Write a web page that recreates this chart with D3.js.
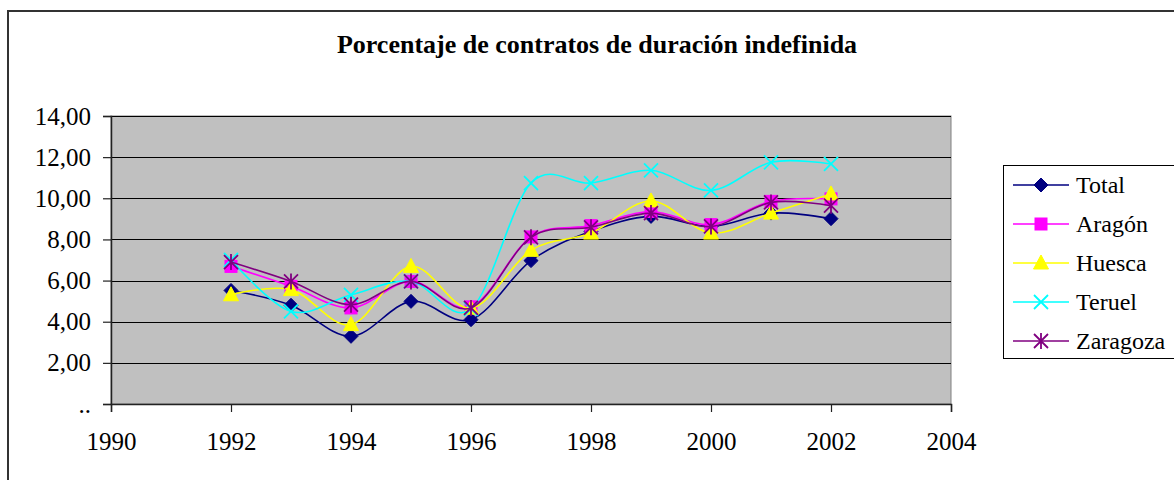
<!DOCTYPE html>
<html>
<head>
<meta charset="utf-8">
<script src="https://cdn.jsdelivr.net/npm/d3@7"></script>
<style>
  body { margin: 0; background: #fff; }
  svg { display: block; font-family: "Liberation Serif", serif; }
</style>
</head>
<body>
<div id="chart"></div>
<script>
const title = "Porcentaje de contratos de duración indefinida";
const years = [1992, 1993, 1994, 1995, 1996, 1997, 1998, 1999, 2000, 2001, 2002];
const xTicks = [1990, 1992, 1994, 1996, 1998, 2000, 2002, 2004];
const yTicks = [0, 2, 4, 6, 8, 10, 12, 14];

const total    = [5.52, 4.80, 3.29, 4.99, 4.10, 6.97, 8.39, 9.12, 8.63, 9.28, 9.01];
const aragon   = [6.69, 5.72, 4.67, 5.96, 4.72, 8.12, 8.67, 9.36, 8.72, 9.85, 9.97];
const huesca   = [5.31, 5.56, 3.86, 6.69, 4.66, 7.47, 8.31, 9.87, 8.31, 9.28, 10.21];
const teruel   = [7.00, 4.50, 5.31, 5.96, 4.62, 10.74, 10.74, 11.36, 10.38, 11.75, 11.67];
const zaragoza = [6.90, 5.96, 4.83, 5.96, 4.67, 8.10, 8.59, 9.28, 8.63, 9.80, 9.64];

const series = [
  {name: "Total",    values: total,    color: "#000080", marker: "diamond"},
  {name: "Aragón",   values: aragon,   color: "#FF00FF", marker: "square"},
  {name: "Huesca",   values: huesca,   color: "#FFFF00", marker: "triangle"},
  {name: "Teruel",   values: teruel,   color: "#00FFFF", marker: "cross"},
  {name: "Zaragoza", values: zaragoza, color: "#800080", marker: "star"}
];

const W = 1174, H = 480;
const plot = {left: 111, right: 951, top: 116, bottom: 404};
const serif = "'Liberation Serif', 'Times New Roman', serif";

const svg = d3.select("#chart").append("svg")
  .attr("width", W).attr("height", H);

// outer chart frame (runs off right and bottom edge)
svg.append("rect")
  .attr("x", 8).attr("y", 11)
  .attr("width", W + 10).attr("height", H + 10)
  .attr("fill", "#fff").attr("stroke", "#333").attr("stroke-width", 2);

svg.append("text")
  .attr("x", 597).attr("y", 53)
  .attr("text-anchor", "middle")
  .style("font-family", serif)
  .style("font-weight", "bold").style("font-size", "26px")
  .text(title);

const x = d3.scaleLinear().domain([1990, 2004]).range([plot.left, plot.right]);
const y = d3.scaleLinear().domain([0, 14]).range([plot.bottom, plot.top]);

svg.append("rect")
  .attr("x", plot.left).attr("y", plot.top)
  .attr("width", plot.right - plot.left).attr("height", plot.bottom - plot.top)
  .attr("fill", "#C0C0C0").attr("stroke", "#808080").attr("stroke-width", 1);

svg.append("g").selectAll("line")
  .data(yTicks.filter(d => d > 0))
  .join("line")
  .attr("x1", plot.left).attr("x2", plot.right)
  .attr("y1", d => Math.round(y(d)) + 0.5).attr("y2", d => Math.round(y(d)) + 0.5)
  .attr("stroke", "#000").attr("stroke-width", 1.2);

const es = d3.formatLocale({decimal: ",", thousands: ".", grouping: [3], currency: ["", "€"]});
const fmt = es.format(".2f");

const yAxis = svg.append("g")
  .attr("transform", `translate(${plot.left},0)`)
  .call(d3.axisLeft(y).tickValues(yTicks).tickSize(8).tickPadding(12)
    .tickFormat(d => d === 0 ? ".." : fmt(d)));

const xAxis = svg.append("g")
  .attr("transform", `translate(0,${plot.bottom})`)
  .call(d3.axisBottom(x).tickValues(xTicks).tickSize(8).tickPadding(20)
    .tickFormat(d3.format("d")));

[yAxis, xAxis].forEach(g => {
  g.attr("font-family", serif).attr("font-size", 25);
  g.select(".domain").attr("stroke", "#222").attr("stroke-width", 1.5);
  g.selectAll(".tick line").attr("stroke", "#222").attr("stroke-width", 1.2);
  g.selectAll("text").attr("fill", "#000").style("font-family", serif);
});

function drawMarker(g, type, color, cx, cy) {
  if (type === "diamond") {
    g.append("path").attr("d", `M${cx},${cy-7}L${cx+7},${cy}L${cx},${cy+7}L${cx-7},${cy}Z`)
      .attr("fill", color).attr("stroke", color);
  } else if (type === "square") {
    g.append("rect").attr("x", cx - 6).attr("y", cy - 6).attr("width", 12).attr("height", 12)
      .attr("fill", color).attr("stroke", color);
  } else if (type === "triangle") {
    g.append("path").attr("d", `M${cx},${cy-8}L${cx+7.5},${cy+6}L${cx-7.5},${cy+6}Z`)
      .attr("fill", color).attr("stroke", color);
  } else if (type === "cross") {
    g.append("path").attr("d", `M${cx-7},${cy-7}L${cx+7},${cy+7}M${cx-7},${cy+7}L${cx+7},${cy-7}`)
      .attr("stroke", color).attr("stroke-width", 1.8);
  } else if (type === "star") {
    g.append("path").attr("d", `M${cx-7},${cy-7}L${cx+7},${cy+7}M${cx-7},${cy+7}L${cx+7},${cy-7}M${cx},${cy-8}L${cx},${cy+8}`)
      .attr("stroke", color).attr("stroke-width", 1.8);
  }
}

const line = d3.line()
  .x((d, i) => x(years[i]))
  .y(d => y(d))
  .curve(d3.curveCatmullRom.alpha(0));

series.forEach(s => {
  const g = svg.append("g");
  g.append("path").attr("d", line(s.values))
    .attr("fill", "none").attr("stroke", s.color).attr("stroke-width", 1.6);
  s.values.forEach((v, i) => drawMarker(g, s.marker, s.color, x(years[i]), y(v)));
});

// legend
const legend = svg.append("g");
legend.append("rect")
  .attr("x", 1003.5).attr("y", 165.5).attr("width", 180).attr("height", 193)
  .attr("fill", "#fff").attr("stroke", "#000").attr("stroke-width", 1);

series.forEach((s, i) => {
  const ly = 185 + i * 39;
  const g = legend.append("g");
  g.append("line").attr("x1", 1013).attr("x2", 1069).attr("y1", ly).attr("y2", ly)
    .attr("stroke", s.color).attr("stroke-width", 1.6);
  drawMarker(g, s.marker, s.color, 1041, ly);
  g.append("text").attr("x", 1076).attr("y", ly).attr("dy", "0.35em")
    .style("font-family", serif)
    .style("font-size", "24px").attr("fill", "#000").text(s.name);
});
</script>
</body>
</html>
